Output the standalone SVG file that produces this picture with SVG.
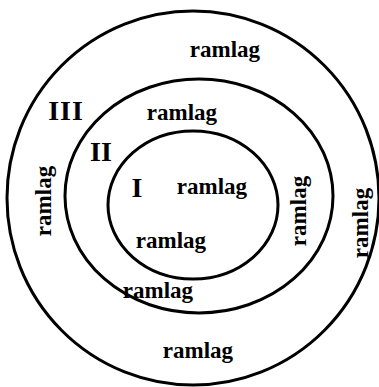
<svg xmlns="http://www.w3.org/2000/svg" width="379" height="387" viewBox="0 0 379 387">
<style>
.c{fill:none;stroke:#000;stroke-width:3}
.t{font-family:"Liberation Serif","Times New Roman",serif;font-weight:bold;font-size:23px;fill:#000;text-anchor:middle}
.n{font-family:"Liberation Serif","Times New Roman",serif;font-weight:bold;font-size:28px;fill:#000;text-anchor:middle}
</style>
<rect width="379" height="387" fill="#fff"/>
<g id="outer">
<ellipse class="c" cx="193" cy="198" rx="186" ry="187"/>
<text class="t" x="225" y="57">ramlag</text>
<text class="n" x="66" y="120" letter-spacing="1">III</text>
<text class="t" transform="translate(51,201) rotate(-90)">ramlag</text>
<text class="t" transform="translate(368,223) rotate(-90)">ramlag</text>
<text class="t" x="198" y="358">ramlag</text>
</g>
<g id="middle">
<ellipse class="c" cx="199" cy="196" rx="134" ry="117"/>
<text class="t" x="182" y="120">ramlag</text>
<text class="n" x="101" y="161">II</text>
<text class="t" transform="translate(306,211) rotate(-90)">ramlag</text>
<text class="t" x="158" y="298">ramlag</text>
</g>
<g id="inner">
<ellipse class="c" cx="193" cy="205" rx="85" ry="74"/>
<text class="n" x="137" y="197">I</text>
<text class="t" x="212" y="194">ramlag</text>
<text class="t" x="171" y="248">ramlag</text>
</g>
</svg>
